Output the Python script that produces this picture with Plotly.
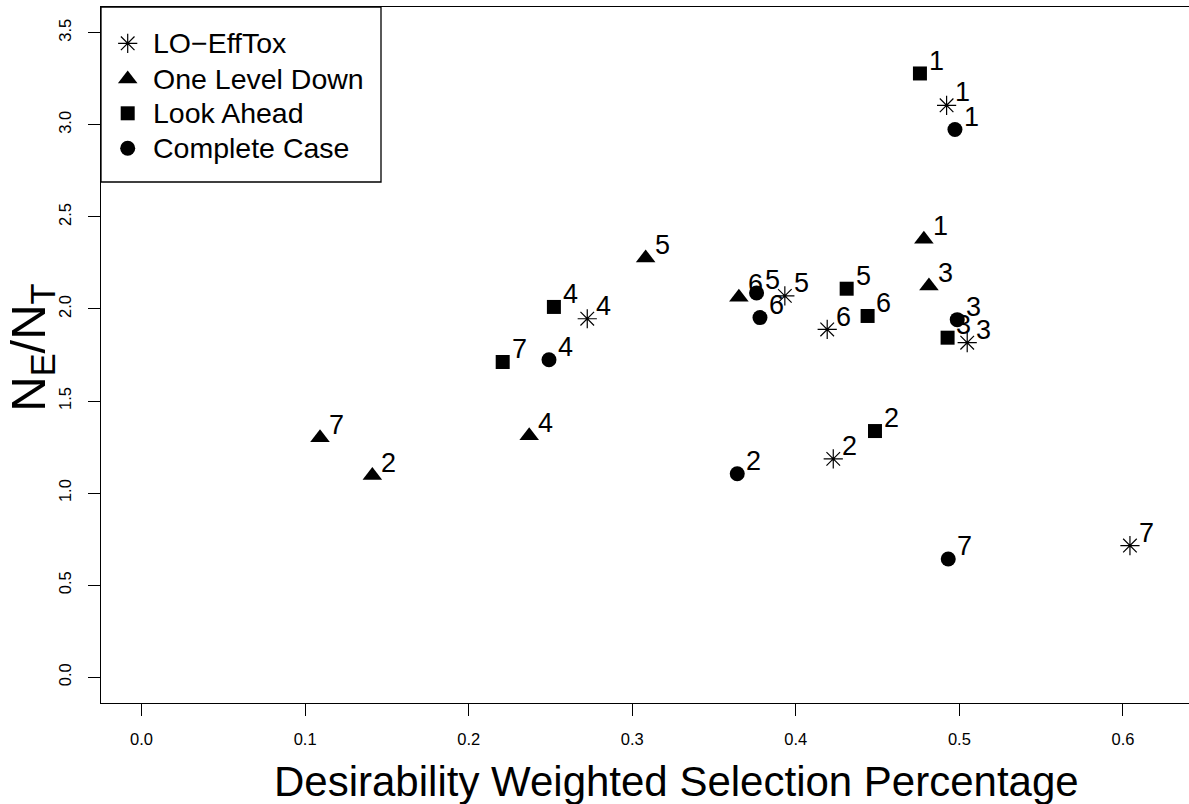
import plotly.graph_objects as go

# ---- data ----
point_labels = ["1", "2", "3", "4", "5", "6", "7"]

lo_efftox_x = [0.4922, 0.4229, 0.5048, 0.2725, 0.3933, 0.4192, 0.6043]
lo_efftox_y = [3.106, 1.186, 1.817, 1.947, 2.071, 1.889, 0.715]

one_level_x = [0.4783, 0.1411, 0.4814, 0.2370, 0.3082, 0.3652, 0.1091]
one_level_y = [2.379, 1.095, 2.125, 1.311, 2.277, 2.063, 1.300]

look_ahead_x = [0.4759, 0.4484, 0.4928, 0.2521, 0.4311, 0.4439, 0.2208]
look_ahead_y = [3.279, 1.337, 1.844, 2.011, 2.110, 1.962, 1.712]

complete_x = [0.4973, 0.3642, 0.4987, 0.2491, 0.3760, 0.3781, 0.4932]
complete_y = [2.975, 1.105, 1.942, 1.724, 2.087, 1.953, 0.642]

series_names = ["LO\u2212EffTox", "One Level Down", "Look Ahead", "Complete Case"]

x_ticks = [0.0, 0.1, 0.2, 0.3, 0.4, 0.5, 0.6]
x_tick_text = ["0.0", "0.1", "0.2", "0.3", "0.4", "0.5", "0.6"]
y_ticks = [0.0, 0.5, 1.0, 1.5, 2.0, 2.5, 3.0, 3.5]
y_tick_text = ["0.0", "0.5", "1.0", "1.5", "2.0", "2.5", "3.0", "3.5"]

x_title = "Desirability Weighted Selection Percentage"
y_title = "N<sub>E</sub>/N<sub>T</sub>"

# label offset in data units (text placed up-right of each point)
label_dx = 0.01
label_dy = 0.07

FONT = "Liberation Sans, Arial, Helvetica, sans-serif"
BLACK = "#000000"

W, H = 1189, 804
M_L, M_R, M_T, M_B = 101, 0, 7, 101
PW, PH = W - M_L - M_R, H - M_T - M_B

markers = [
    dict(symbol="asterisk-open", size=16, line=dict(color=BLACK, width=1.2), color=BLACK),
    dict(symbol="triangle-up", size=17, color=BLACK, line=dict(width=0)),
    dict(symbol="square", size=14, color=BLACK, line=dict(width=0)),
    dict(symbol="circle", size=15, color=BLACK, line=dict(width=0)),
]
series_x = [lo_efftox_x, one_level_x, look_ahead_x, complete_x]
series_y = [lo_efftox_y, one_level_y, look_ahead_y, complete_y]

fig = go.Figure()
annotations = []
for name, xs, ys, marker in zip(series_names, series_x, series_y, markers):
    fig.add_trace(go.Scatter(x=xs, y=ys, mode="markers", name=name, marker=marker,
                             showlegend=False, hoverinfo="x+y+name"))
    for xv, yv, lab in zip(xs, ys, point_labels):
        annotations.append(dict(x=xv + label_dx, y=yv + label_dy, xref="x", yref="y",
                                text=lab, showarrow=False, xanchor="center", yanchor="middle",
                                font=dict(family=FONT, size=27, color=BLACK)))

# ---- legend box (drawn on a pixel-scaled overlay axis) ----
leg_box = (0, 280, 0, 175)            # x0, x1, y0, y1 in px from plot top-left
leg_sym_x = 26.7
leg_txt_x = 50
leg_rows = [36.3, 72.0, 106.3, 141.3]
for name, marker, ry in zip(series_names, markers, leg_rows):
    fig.add_trace(go.Scatter(x=[leg_sym_x], y=[ry], xaxis="x2", yaxis="y2", mode="markers",
                             marker=marker, showlegend=False, hoverinfo="skip"))
    annotations.append(dict(x=leg_txt_x, y=ry, xref="x2", yref="y2", text=name,
                            showarrow=False, xanchor="left", yanchor="middle",
                            font=dict(family=FONT, size=28.5, color=BLACK)))

shapes = [dict(type="rect", xref="x2", yref="y2", x0=leg_box[0], x1=leg_box[1],
               y0=leg_box[2], y1=leg_box[3], line=dict(color=BLACK, width=1.3),
               fillcolor="white", layer="below")]

# axis titles as annotations (paper coords)
annotations.append(dict(x=0.529, y=-0.113, xref="paper", yref="paper", text=x_title,
                        showarrow=False, xanchor="center", yanchor="middle",
                        font=dict(family=FONT, size=42, color=BLACK)))
annotations.append(dict(x=-0.064, y=0.511, xref="paper", yref="paper", text=y_title,
                        showarrow=False, xanchor="center", yanchor="middle", textangle=-90,
                        font=dict(family=FONT, size=49, color=BLACK)))

fig.update_layout(
    width=W, height=H,
    margin=dict(l=M_L, r=M_R, t=M_T, b=M_B),
    paper_bgcolor="white", plot_bgcolor="white",
    font=dict(family=FONT, color=BLACK),
    showlegend=False,
    annotations=annotations,
    shapes=shapes,
    xaxis=dict(range=[-0.0248, 0.6404], tickvals=x_ticks, ticktext=x_tick_text,
               showgrid=False, zeroline=False, showline=True, mirror=True,
               linecolor=BLACK, linewidth=1.3, ticks="outside", ticklen=12,
               tickwidth=1.3, tickcolor=BLACK, ticklabelstandoff=9,
               tickfont=dict(family=FONT, size=16.5, color=BLACK)),
    yaxis=dict(range=[-0.14, 3.64], tickvals=y_ticks, ticktext=y_tick_text,
               showgrid=False, zeroline=False, showline=True, mirror=False,
               linecolor=BLACK, linewidth=1.3, ticks="outside", ticklen=12,
               tickwidth=1.3, tickcolor=BLACK, tickangle=-90, ticklabelstandoff=10,
               tickfont=dict(family=FONT, size=16.5, color=BLACK)),
    xaxis2=dict(overlaying="x", anchor="y2", range=[0, PW], visible=False, fixedrange=True),
    yaxis2=dict(overlaying="y", anchor="x2", range=[PH, 0], visible=False, fixedrange=True),
)

fig.write_html("out.html")
